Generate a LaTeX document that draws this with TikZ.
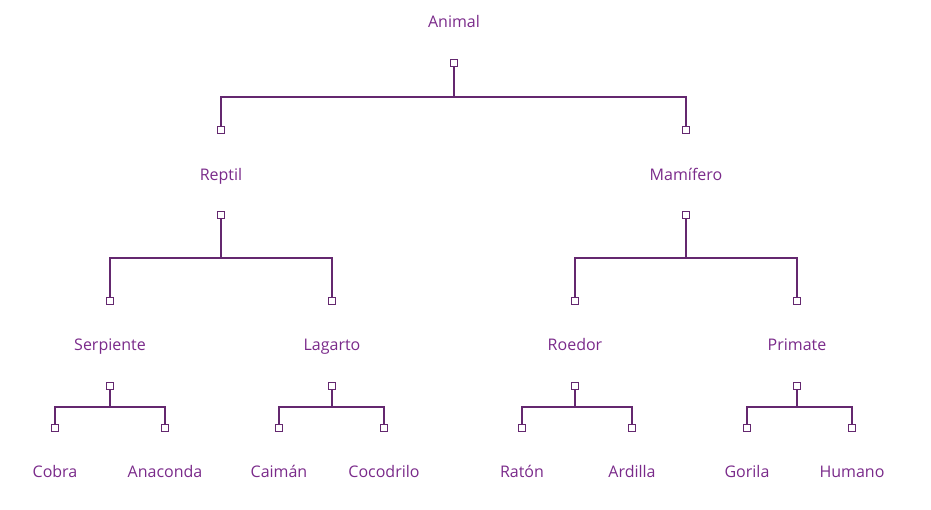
\documentclass[tikz,border=0pt]{standalone}
\usepackage{fontspec}
\setmainfont{Open Sans}
\definecolor{txt}{HTML}{7A2A8A}
\definecolor{ln}{HTML}{64286F}
\begin{document}
\begin{tikzpicture}[x=1pt,y=-1pt,
  lbl/.style={text=txt,font=\fontsize{16}{19}\selectfont,inner sep=0pt,anchor=base},
  sq/.style={draw=ln,fill=white,line width=1.3pt,minimum size=7pt,inner sep=0pt,rectangle},
  edge/.style={draw=ln,line width=1.3pt}]
\useasboundingbox (0,0) rectangle (931,509);
% labels
\node[lbl] (animal) at (454,27) {Animal};
\node[lbl] (reptil) at (221,180) {Reptil};
\node[lbl] (mamif) at (686,180) {Mamífero};
\node[lbl] (serp) at (110,350.5) {Serpiente};
\node[lbl] (lag) at (332,350.5) {Lagarto};
\node[lbl] (roed) at (575,350.5) {Roedor};
\node[lbl] (prim) at (797,350.5) {Primate};
\node[lbl] (cobra) at (55,477) {Cobra};
\node[lbl] (anac) at (165,477) {Anaconda};
\node[lbl] (caim) at (279,477) {Caimán};
\node[lbl] (coco) at (384,477) {Cocodrilo};
\node[lbl] (raton) at (522,477) {Ratón};
\node[lbl] (ardi) at (632,477) {Ardilla};
\node[lbl] (gori) at (747,477) {Gorila};
\node[lbl] (huma) at (852,477) {Humano};
% parent squares
\node[sq] (pAnimal) at (454,63) {};
\node[sq] (pReptil) at (221,215) {};
\node[sq] (pMamif) at (686,215) {};
\node[sq] (pSerp) at (110,386) {};
\node[sq] (pLag) at (332,386) {};
\node[sq] (pRoed) at (575,386) {};
\node[sq] (pPrim) at (797,386) {};
% child squares
\node[sq] (cReptil) at (221,130) {};
\node[sq] (cMamif) at (686,130) {};
\node[sq] (cSerp) at (110,301) {};
\node[sq] (cLag) at (332,301) {};
\node[sq] (cRoed) at (575,301) {};
\node[sq] (cPrim) at (797,301) {};
\node[sq] (cCobra) at (55,428) {};
\node[sq] (cAnac) at (165,428) {};
\node[sq] (cCaim) at (279,428) {};
\node[sq] (cCoco) at (384,428) {};
\node[sq] (cRaton) at (522,428) {};
\node[sq] (cArdi) at (632,428) {};
\node[sq] (cGori) at (747,428) {};
\node[sq] (cHuma) at (852,428) {};
% junction coordinates
\coordinate (jAnimal) at (454,97);
\coordinate (jReptil) at (221,258);
\coordinate (jMamif) at (686,258);
\coordinate (jSerp) at (110,407);
\coordinate (jLag) at (332,407);
\coordinate (jRoed) at (575,407);
\coordinate (jPrim) at (797,407);
% connectors
\foreach \p/\j/\a/\b in {pAnimal/jAnimal/cReptil/cMamif,
  pReptil/jReptil/cSerp/cLag, pMamif/jMamif/cRoed/cPrim,
  pSerp/jSerp/cCobra/cAnac, pLag/jLag/cCaim/cCoco,
  pRoed/jRoed/cRaton/cArdi, pPrim/jPrim/cGori/cHuma}{
  \draw[edge] (\p.south) -- (\j);
  \draw[edge,line join=miter] (\a.north) |- (\j) -| (\b.north);
}
\end{tikzpicture}
\end{document}
